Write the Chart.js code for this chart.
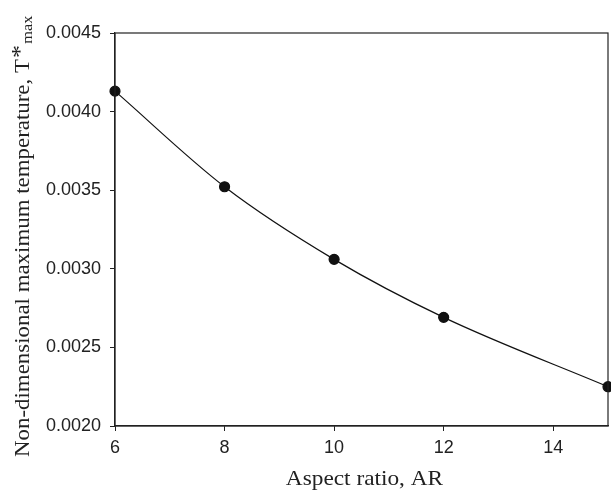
<!DOCTYPE html>
<html>
<head>
<meta charset="utf-8">
<script src="https://cdn.jsdelivr.net/npm/chart.js@4.4.0/dist/chart.umd.min.js"></script>
<style>
  html, body { margin: 0; padding: 0; background: #fff; }
  #wrap { width: 611px; height: 490px; }
</style>
</head>
<body>
<div id="wrap"><canvas id="chart" width="611" height="490"></canvas></div>
<script>
// aspect ratio vs. max temperature
var aspectRatio = [6, 8, 10, 12, 15];
var tMax = [0.00413, 0.003522, 0.00306, 0.002691, 0.00225];
var xTicks = [6, 8, 10, 12, 14];
var yTicks = [0.0020, 0.0025, 0.0030, 0.0035, 0.0040, 0.0045];

var points = aspectRatio.map(function (x, i) {
    return { x: x, y: tMax[i] };
});

var serif = '"Liberation Serif", "Times New Roman", serif';

// box round the plot, plus both axis titles (the font is a bit wider in the original)
var framePlugin = {
    id: 'frame',
    afterDraw: function (chart) {
        var ctx = chart.ctx;
        var a = chart.chartArea;
        ctx.save();
        ctx.strokeStyle = '#222';
        ctx.lineWidth = 1.2;
        ctx.strokeRect(a.left, a.top, a.right - a.left, a.bottom - a.top);
        ctx.restore();

        // x title
        ctx.save();
        ctx.fillStyle = '#222';
        ctx.font = '21px ' + serif;
        ctx.textAlign = 'center';
        ctx.textBaseline = 'alphabetic';
        ctx.translate((a.left + a.right) / 2 + 3, 485);
        ctx.scale(1.11, 1);
        ctx.fillText('Aspect ratio, AR', 0, 0);
        ctx.restore();

        // y title, T*max
        ctx.save();
        ctx.fillStyle = '#222';
        ctx.translate(29, 457);
        ctx.rotate(-Math.PI / 2);
        ctx.scale(1.09, 1);
        ctx.textBaseline = 'alphabetic';
        ctx.textAlign = 'left';
        ctx.font = '21px ' + serif;
        var main = 'Non-dimensional maximum temperature, T';
        ctx.fillText(main, 0, 0);
        var w = ctx.measureText(main).width;
        ctx.font = '24px ' + serif;
        ctx.fillText('*', w + 1, -2);
        ctx.font = '15px ' + serif;
        ctx.fillText('max', w + 14, 3);
        ctx.restore();
    }
};

var ctx = document.getElementById('chart').getContext('2d');
new Chart(ctx, {
    type: 'line',
    data: {
        datasets: [{
            data: points,
            borderColor: '#111',
            borderWidth: 1.2,
            backgroundColor: '#111',
            pointRadius: 5,
            pointHoverRadius: 5,
            cubicInterpolationMode: 'monotone',
            fill: false,
            clip: false
        }]
    },
    options: {
        responsive: false,
        animation: false,
        layout: { autoPadding: false, padding: { top: 33, right: 3, left: 0, bottom: 0 } },
        plugins: {
            legend: { display: false },
            tooltip: { enabled: false }
        },
        scales: {
            x: {
                type: 'linear',
                min: 6,
                max: 15,
                afterFit: function (s) {
                    s.height = 64;
                    s.paddingRight = 0;
                    s.paddingLeft = 0;
                },
                afterBuildTicks: function (s) {
                    s.ticks = xTicks.map(function (v) { return { value: v }; });
                },
                grid: { drawOnChartArea: false, tickLength: 5, color: '#222' },
                border: { color: '#222', width: 1.2 },
                ticks: {
                    color: '#222',
                    padding: 6,
                    font: { family: '"Liberation Sans", Arial, sans-serif', size: 18 }
                }
            },
            y: {
                type: 'linear',
                min: 0.0020,
                max: 0.0045,
                afterFit: function (s) { s.width = 115; },
                afterBuildTicks: function (s) {
                    s.ticks = yTicks.map(function (v) { return { value: v }; });
                },
                grid: { drawOnChartArea: false, tickLength: 5, color: '#222' },
                border: { color: '#222', width: 1.2 },
                ticks: {
                    color: '#222',
                    padding: 9,
                    font: { family: '"Liberation Sans", Arial, sans-serif', size: 18 },
                    callback: function (v) { return v.toFixed(4); }
                }
            }
        }
    },
    plugins: [framePlugin]
});
</script>
</body>
</html>
